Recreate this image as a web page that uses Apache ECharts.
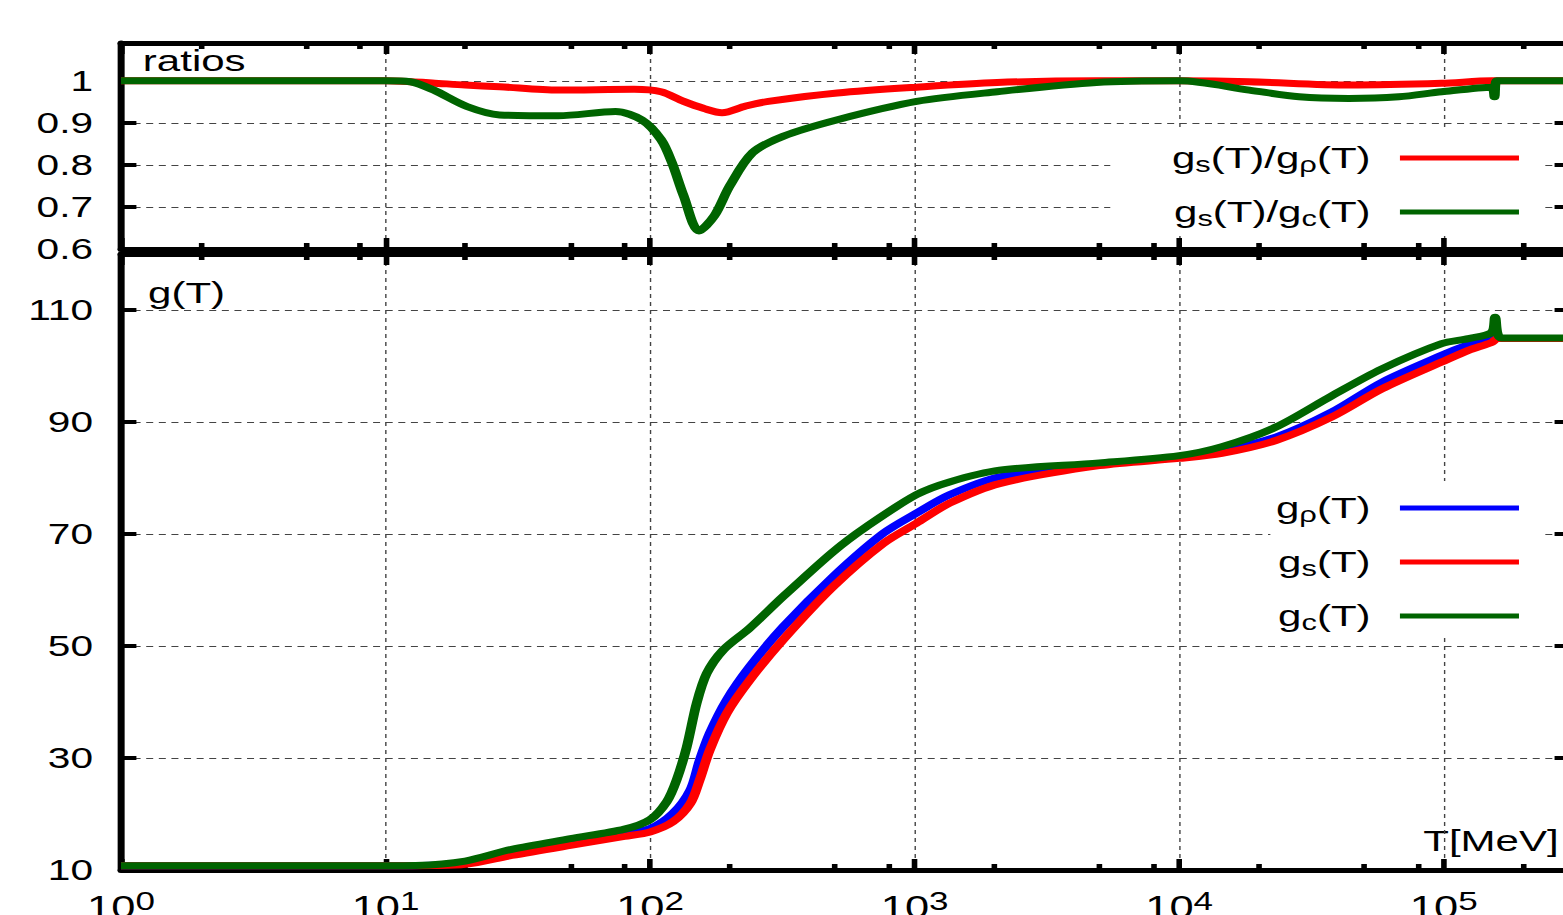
<!DOCTYPE html>
<html>
<head>
<meta charset="utf-8">
<script src="https://cdn.jsdelivr.net/npm/echarts@6/dist/echarts.min.js"></script>
<style>
  html, body { margin: 0; padding: 0; overflow: hidden; background: #fff; }
  /* the reference picture is stretched sideways, so the chart is too */
  #chart { width: 1116px; height: 915px; transform: scaleX(1.4005); transform-origin: 0 0; }
</style>
</head>
<body>
<div id="chart"></div>
<script>
// ---- data ----
const tRatioSR = [1, 10, 11.5, 15, 20, 27, 45, 87, 110, 134, 160, 187, 230, 280, 510, 1020, 2050, 4860, 10000, 18400, 43800, 98200, 151700, 300000];
const ratioSR  = [1, 1, 0.999, 0.995, 0.99, 0.986, 0.978, 0.98, 0.974, 0.951, 0.934, 0.924, 0.94, 0.951, 0.971, 0.985, 0.996, 1.0, 1.0, 0.998, 0.99, 0.994, 1.0, 1.0];

const tRatioSC = [1, 10, 12.4, 15.2, 20.3, 27, 45, 74, 93, 110, 121, 134, 153, 175, 200, 244, 318, 507, 1018, 2050, 4860, 10000, 18400, 28400, 43800, 67600, 98200, 151700, 155500, 158500, 300000];
const ratioSC  = [1, 1, 0.998, 0.978, 0.939, 0.919, 0.917, 0.927, 0.907, 0.86, 0.805, 0.726, 0.643, 0.679, 0.75, 0.829, 0.868, 0.907, 0.951, 0.974, 0.996, 1.0, 0.978, 0.962, 0.958, 0.962, 0.974, 0.985, 0.962, 1.0, 1.0];

const tRhoS = [1, 10, 15, 20, 30, 50, 80, 100, 122, 142, 154, 168, 195, 238, 318, 492, 760, 1014, 1355, 2093, 4990, 10000, 14500, 23200, 37800, 58400, 98200, 124000, 151700, 160000, 300000];
const gRho  = [10.75, 10.75, 10.85, 11.2, 12.9, 14.8, 16.5, 17.4, 20.1, 24.3, 29.6, 34.4, 40.4, 46.3, 53.4, 62.4, 70.1, 73.7, 77.0, 80.2, 82.4, 83.7, 84.9, 87.3, 91.8, 97.1, 101.9, 103.8, 105.1, 104.9, 104.9];
const gS    = [10.75, 10.75, 10.8, 11.0, 12.6, 14.4, 16.0, 16.8, 18.6, 21.9, 26.1, 31.4, 38.0, 43.9, 51.1, 60.6, 68.3, 71.9, 75.5, 79.0, 82.2, 83.5, 84.4, 86.7, 90.9, 95.9, 100.7, 102.8, 104.2, 104.9, 104.9];

const tC = [1, 10, 13, 20, 30, 50, 80, 100, 115.6, 126, 137.6, 150, 163.7, 189, 238, 318, 491, 657, 1014, 1355, 2093, 4990, 10000, 14500, 23200, 37800, 58400, 98200, 124000, 151700, 156400, 165000, 300000];
const gC = [10.75, 10.75, 10.8, 11.6, 13.7, 15.6, 17.3, 19.0, 22.2, 26.1, 32.0, 39.8, 45.1, 49.3, 53.2, 58.8, 66.8, 71.3, 77.0, 79.3, 81.4, 82.7, 84.0, 85.6, 89.1, 94.7, 99.5, 104.0, 104.9, 106.0, 108.7, 105.0, 105.0];

const majorT = [1, 10, 100, 1e3, 1e4, 1e5];
const minorT = [2, 5, 8, 20, 50, 80, 200, 500, 800, 2e3, 5e3, 8e3, 2e4, 5e4, 8e4, 2e5];

const nameSR = 'gs(T)/gρ(T)';
const nameSC = 'gs(T)/gc(T)';
const nameRho = 'gρ(T)';
const nameS = 'gs(T)';
const nameC = 'gc(T)';

// ---- styling ----
const FONT = 'Liberation Sans';
const RED = '#ff0000', BLUE = '#0000ff', GREEN = '#006400';

const legendText = {
  [nameSR]: '{m|g}{u|s}{m|(T)/g}{u|ρ}{m|(T)}{sp|}',
  [nameSC]: '{m|g}{u|s}{m|(T)/g}{u|c}{m|(T)}{sp|}',
  [nameRho]: '{m|g}{u|ρ}{m|(T)}{sp|}',
  [nameS]: '{m|g}{u|s}{m|(T)}{sp|}',
  [nameC]: '{m|g}{u|c}{m|(T)}{sp|}'
};

// subscripts get a top padding so they drop below the baseline
const legendRich = {
  m: { fontSize: 30, lineHeight: 40, fontFamily: FONT, color: '#000' },
  u: { fontSize: 22, lineHeight: 40, fontFamily: FONT, color: '#000', padding: [14, 0, 0, 0] },
  sp: { width: 16 }
};

function pairs(xs, ys) {
  return xs.map((x, i) => [x, ys[i]]);
}

function logX(gridIndex, position, ticks, len, main, extra) {
  return Object.assign({
    type: 'log', logBase: 10, gridIndex: gridIndex, position: position,
    min: 1, max: 3e5,
    axisLine: { show: main, lineStyle: { color: '#000', width: 5 } },
    axisTick: { show: true, inside: true, length: len, customValues: ticks,
                lineStyle: { color: '#000', width: 4 } },
    axisLabel: { show: false },
    splitLine: { show: false }
  }, extra || {});
}

function valY(gridIndex, position, min, max, interval, main) {
  return {
    type: 'value', gridIndex: gridIndex, position: position,
    min: min, max: max, interval: interval,
    axisLine: { show: true, lineStyle: { color: '#000', width: 5 } },
    axisTick: { show: true, inside: true, length: 11, lineStyle: { color: '#000', width: 4 } },
    axisLabel: { show: main, showMaxLabel: false, margin: 20, fontSize: 29,
                 fontFamily: FONT, color: '#000' },
    splitLine: { show: main, lineStyle: { color: '#444', width: 1, type: [5, 4] } }
  };
}

const gridSplit = { show: true, lineStyle: { color: '#444', width: 1, type: [4, 4] } };

const xLabels = {
  show: true, customValues: majorT, margin: 18,
  formatter: v => '{b|10}{s|' + Math.round(Math.log10(v)) + '}',
  rich: {
    b: { fontSize: 31, lineHeight: 38, fontFamily: FONT, color: '#000' },
    s: { fontSize: 25, lineHeight: 38, fontFamily: FONT, color: '#000', verticalAlign: 'top' }
  }
};

function line(name, data, color, xi, yi) {
  return {
    type: 'line', name: name, data: data, xAxisIndex: xi, yAxisIndex: yi,
    showSymbol: false, smooth: 0.3,
    lineStyle: { color: color, width: 7 }, itemStyle: { color: color }
  };
}

function legendFor(names, top, gap, padding) {
  return {
    data: names, orient: 'vertical', align: 'right', right: 12.8, top: top,
    itemWidth: 85, itemHeight: 5, itemGap: gap, icon: 'rect',
    backgroundColor: '#fff', padding: padding, selectedMode: false,
    formatter: n => legendText[n],
    textStyle: { fontFamily: FONT, fontSize: 30, color: '#000', rich: legendRich }
  };
}

const chart = echarts.init(document.getElementById('chart'), null, { renderer: 'svg' });

chart.setOption({
  animation: false,
  backgroundColor: '#fff',
  grid: [
    { left: 86.4, right: -5, top: 43, height: 206, outerBoundsMode: 'none', containLabel: false },
    { left: 86.4, right: -5, top: 254, height: 616, outerBoundsMode: 'none', containLabel: false }
  ],
  xAxis: [
    logX(0, 'bottom', majorT, 11, true, { splitLine: gridSplit }),
    logX(0, 'top', majorT, 11, true),
    logX(0, 'bottom', minorT, 6, false),
    logX(0, 'top', minorT, 6, false),
    logX(1, 'bottom', majorT, 11, true, { splitLine: gridSplit, axisLabel: xLabels }),
    logX(1, 'top', majorT, 11, true),
    logX(1, 'bottom', minorT, 6, false),
    logX(1, 'top', minorT, 6, false)
  ],
  yAxis: [
    valY(0, 'left', 0.6, 1.09, 0.1, true),
    valY(0, 'right', 0.6, 1.09, 0.1, false),
    valY(1, 'left', 10, 120, 20, true),
    valY(1, 'right', 10, 120, 20, false)
  ],
  legend: [
    legendFor([nameSR, nameSC], 131, 18, [9, 18.6, 6, 44]),
    legendFor([nameRho, nameS, nameC], 481, 18, [9, 18.6, 2, 4])
  ],
  graphic: [
    { type: 'text', x: 102, y: 61,
      style: { text: 'ratios', fontSize: 30, fontFamily: FONT, fill: '#000', verticalAlign: 'middle' } },
    { type: 'text', x: 105.7, y: 293,
      style: { text: 'g(T)', fontSize: 30, fontFamily: FONT, fill: '#000', verticalAlign: 'middle' } },
    { type: 'text', x: 1112.9, y: 841,
      style: { text: 'T[MeV]', fontSize: 30, fontFamily: FONT, fill: '#000', align: 'right', verticalAlign: 'middle' } }
  ],
  series: [
    line(nameSR, pairs(tRatioSR, ratioSR), RED, 0, 0),
    line(nameSC, pairs(tRatioSC, ratioSC), GREEN, 0, 0),
    line(nameRho, pairs(tRhoS, gRho), BLUE, 4, 2),
    line(nameS, pairs(tRhoS, gS), RED, 4, 2),
    line(nameC, pairs(tC, gC), GREEN, 4, 2)
  ]
});
</script>
</body>
</html>
